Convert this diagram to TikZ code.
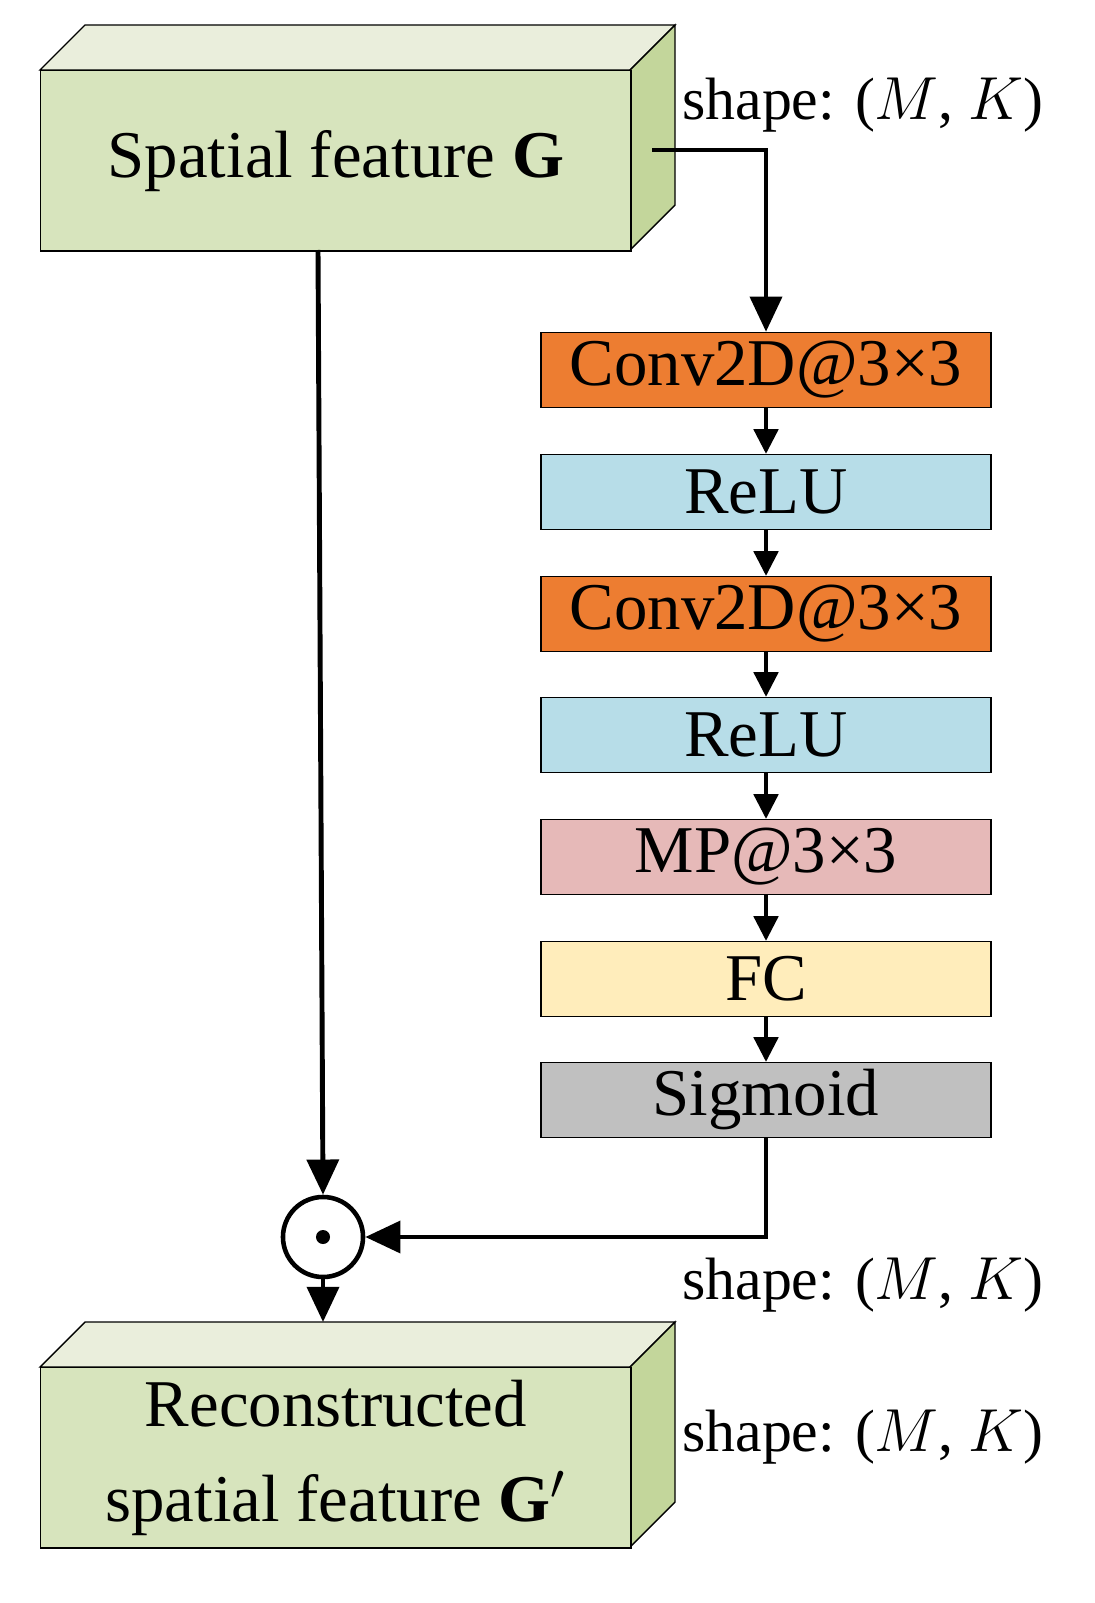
\documentclass[tikz,border=0pt]{standalone}
\usepackage{fontspec}
\setmainfont{Liberation Serif}
\usetikzlibrary{arrows.meta}
\definecolor{gfront}{HTML}{D7E4BD}
\definecolor{gtop}{HTML}{EAEEDC}
\definecolor{gside}{HTML}{C3D69B}
\definecolor{corange}{HTML}{ED7D31}
\definecolor{cblue}{HTML}{B7DDE8}
\definecolor{cpink}{HTML}{E6B9B8}
\definecolor{cyellow}{HTML}{FFEDBB}
\definecolor{cgray}{HTML}{C0C0C0}
\begin{document}
\begin{tikzpicture}[x=0.01cm,y=-0.01cm,
 layer/.style={draw,line width=0.4pt,minimum width=4.5cm,minimum height=0.75cm,inner sep=0pt,font=\fontsize{19}{22}\selectfont},
 big/.style={-{Triangle[length=10pt,width=9pt]},line width=1.4pt},
 small/.style={-{Triangle[length=7pt,width=7pt]},line width=0.9pt},
 lbl/.style={font=\fontsize{17}{20}\selectfont,anchor=center}]
\useasboundingbox (0,0) rectangle (1095,1603);
% top box
\fill[gtop,draw=black,line width=0.4pt] (40,70)--(85,25)--(675,25)--(630,70)--cycle;
\fill[gside,draw=black,line width=0.4pt] (630,70)--(675,25)--(675,205)--(630,250)--cycle;
\node[draw,fill=gfront,line width=0.4pt,minimum width=5.9cm,minimum height=1.8cm,anchor=north west,inner sep=0pt,font=\fontsize{19}{23}\selectfont] (G) at (40,70) {Spatial feature $\mathbf{G}$};
% bottom box
\fill[gtop,draw=black,line width=0.4pt] (40,1367)--(85,1322)--(675,1322)--(630,1367)--cycle;
\fill[gside,draw=black,line width=0.4pt] (630,1367)--(675,1322)--(675,1502)--(630,1547)--cycle;
\node[draw,fill=gfront,line width=0.4pt,minimum width=5.9cm,minimum height=1.8cm,anchor=north west,inner sep=0pt,align=center,font=\fontsize{19}{27}\selectfont] (R) at (40,1367) {Reconstructed\\spatial feature $\mathbf{G}'$};
% layers
\node[layer,fill=corange] (c1) at (766,370) {Conv2D@3×3};
\node[layer,fill=cblue] (r1) at (766,492) {ReLU};
\node[layer,fill=corange] (c2) at (766,614) {Conv2D@3×3};
\node[layer,fill=cblue] (r2) at (766,735) {ReLU};
\node[layer,fill=cpink] (mp) at (766,857) {MP@3×3};
\node[layer,fill=cyellow] (fc) at (766,979) {FC};
\node[layer,fill=cgray] (sg) at (766,1100) {Sigmoid};
\draw[small] (c1)--(r1);
\draw[small] (r1)--(c2);
\draw[small] (c2)--(r2);
\draw[small] (r2)--(mp);
\draw[small] (mp)--(fc);
\draw[small] (fc)--(sg);
% circle
\node[draw,circle,line width=1.3pt,minimum size=0.8cm,inner sep=0pt] (m) at (323,1237) {};
\fill (m.center) circle (0.07cm);
\coordinate (gs) at (652,150);
\coordinate (gb) at (318,250);
\draw[big] (gs) -| (c1.north);
\draw[big] (gb) -- (m.north);
\draw[big] (sg.south) |- (m.east);
\draw[big] (m.south) -- (323,1322);
\node[lbl] (s1) at (863,105) {shape: ($M$, $K$)};
\node[lbl] (s2) at (863,1285) {shape: ($M$, $K$)};
\node[lbl] (s3) at (863,1437) {shape: ($M$, $K$)};
\end{tikzpicture}
\end{document}
